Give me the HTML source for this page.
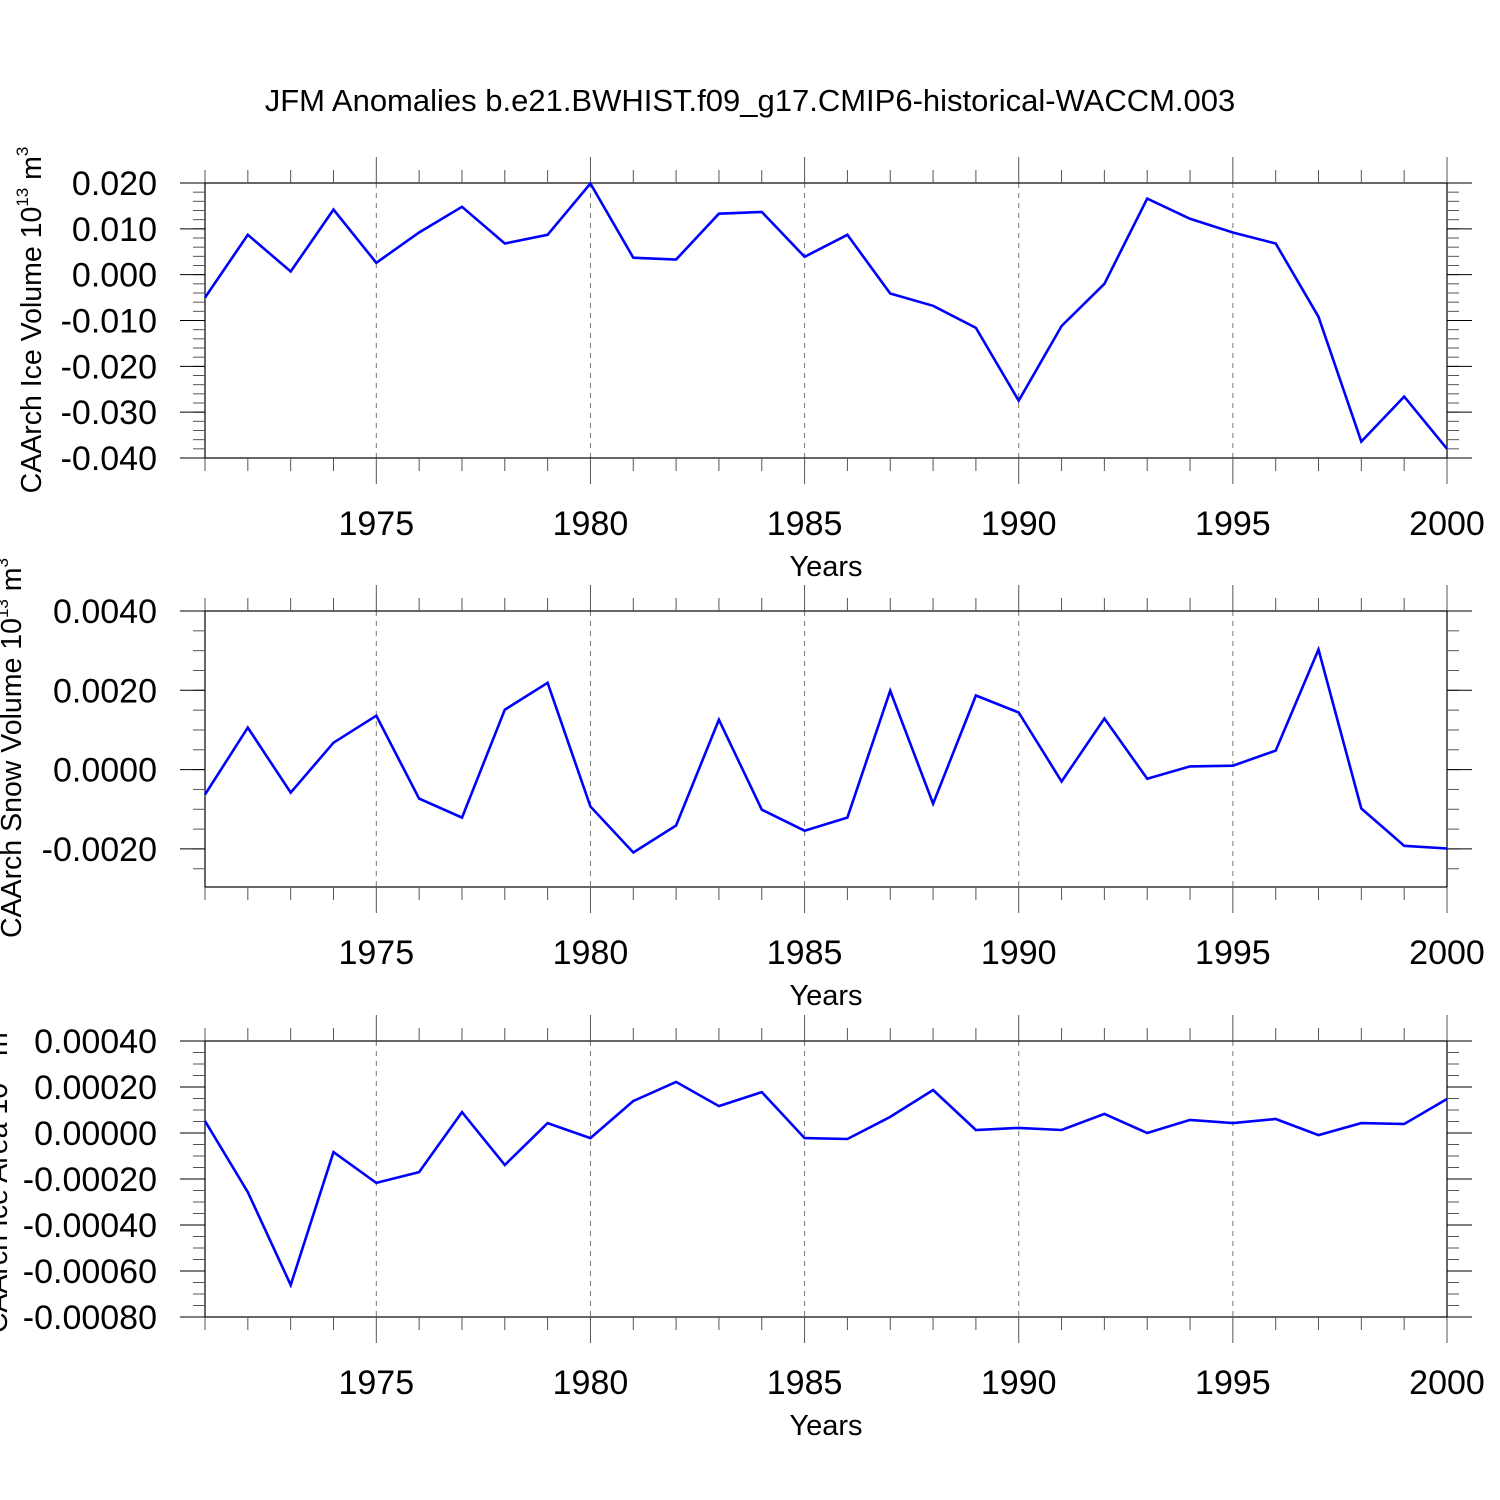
<!DOCTYPE html>
<html><head><meta charset="utf-8"><style>
html,body{margin:0;padding:0;background:#fff;}
svg{display:block;font-family:"Liberation Sans",sans-serif;}
</style></head><body>
<svg id="chart" width="1500" height="1500" viewBox="0 0 1500 1500" xmlns="http://www.w3.org/2000/svg">
<rect width="1500" height="1500" fill="#fff"/>
<text x="750" y="111" font-size="31" text-anchor="middle">JFM Anomalies b.e21.BWHIST.f09_g17.CMIP6-historical-WACCM.003</text>
</svg>
<script>
const years = [1971,1972,1973,1974,1975,1976,1977,1978,1979,1980,1981,1982,1983,1984,1985,1986,1987,1988,1989,1990,1991,1992,1993,1994,1995,1996,1997,1998,1999,2000];
const iceVolume = [-0.0050,0.0087,0.0007,0.0142,0.0026,0.0092,0.0148,0.0068,0.0087,0.0199,0.0037,0.0033,0.0133,0.0137,0.0039,0.0087,-0.0041,-0.0068,-0.0116,-0.0275,-0.0112,-0.0020,0.0166,0.0122,0.0092,0.0068,-0.0092,-0.0364,-0.0266,-0.0380];
const snowVolume = [-0.00063,0.00106,-0.00058,0.00068,0.00136,-0.00073,-0.00121,0.00151,0.00219,-0.00093,-0.00209,-0.00141,0.00126,-0.00101,-0.00154,-0.00121,0.00199,-0.00086,0.00187,0.00144,-0.00030,0.00129,-0.00023,0.00008,0.00010,0.00048,0.00303,-0.00098,-0.00192,-0.00199];
const iceArea = [0.000052,-0.000257,-0.000661,-0.000083,-0.000217,-0.000170,0.000091,-0.000139,0.000043,-0.000022,0.000139,0.000222,0.000117,0.000178,-0.000022,-0.000026,0.000070,0.000187,0.000013,0.000022,0.000013,0.000083,0.000000,0.000057,0.000043,0.000061,-0.000009,0.000043,0.000039,0.000148];
const xTickYears = [1975,1980,1985,1990,1995,2000];
const iceVolTicks = [0.02,0.01,0,-0.01,-0.02,-0.03,-0.04];
const iceVolLabels = ["0.020","0.010","0.000","-0.010","-0.020","-0.030","-0.040"];
const snowTicks = [0.004,0.002,0,-0.002];
const snowLabels = ["0.0040","0.0020","0.0000","-0.0020"];
const areaTicks = [0.0004,0.0002,0,-0.0002,-0.0004,-0.0006,-0.0008];
const areaLabels = ["0.00040","0.00020","0.00000","-0.00020","-0.00040","-0.00060","-0.00080"];

const NS="http://www.w3.org/2000/svg";
const svg=document.getElementById('chart');
const X0=205,X1=1447;
function xs(yr){return X0+(yr-1971)/(2000-1971)*(X1-X0);}
function mk(tag,attrs,parent){const e=document.createElementNS(NS,tag);for(const k in attrs)e.setAttribute(k,attrs[k]);(parent||svg).appendChild(e);return e;}

function panel(cfg){
  const g=mk('g',{});
  
  
  const T=cfg.top,B=cfg.bottom;
  const ys=v=>T+(cfg.ymax-v)/(cfg.ymax-cfg.ymin)*(B-T);
  xTickYears.forEach(yr=>{if(yr<2000){const l=mk('line',{x1:xs(yr),x2:xs(yr),y1:T,y2:B,stroke:'#777','stroke-width':1,'stroke-dasharray':'5,5'},g);
    
    }});
  const f=mk('rect',{x:X0,y:T,width:X1-X0,height:B-T,fill:'none',stroke:'#000','stroke-width':1.2},g);
  
  
  for(let yr=1971;yr<=2000;yr++){
    const maj=xTickYears.includes(yr),len=maj?26:13,x=xs(yr);
    mk('line',{x1:x,x2:x,y1:T,y2:T-len,stroke:'#555','stroke-width':1},g);
    mk('line',{x1:x,x2:x,y1:B,y2:B+len,stroke:'#555','stroke-width':1},g);
  }
  xTickYears.forEach(yr=>{const t=mk('text',{x:xs(yr),y:B+77,'font-size':34,'text-anchor':'middle'},g);t.textContent=yr;
    
    });
  const xt=mk('text',{x:826,y:B+118,'font-size':29,'text-anchor':'middle'},g);xt.textContent='Years';
  
  
  for(let v=cfg.ymax;v>=cfg.ymin-1e-12;v-=cfg.minor){
    const y=ys(v);
    mk('line',{x1:X0,x2:X0-12,y1:y,y2:y,stroke:'#555','stroke-width':1},g);
    mk('line',{x1:X1,x2:X1+12,y1:y,y2:y,stroke:'#555','stroke-width':1},g);
  }
  cfg.ticks.forEach((v,i)=>{const y=ys(v);
    mk('line',{x1:X0,x2:X0-25,y1:y,y2:y,stroke:'#000','stroke-width':1},g);
    mk('line',{x1:X1,x2:X1+25,y1:y,y2:y,stroke:'#000','stroke-width':1},g);
    const t=mk('text',{x:157,y:y+12,'font-size':34,'text-anchor':'end'},g);t.textContent=cfg.labels[i];
    
    });
  const yt=mk('text',{transform:`translate(${cfg.lx},${cfg.ly}) rotate(-90)`,'font-size':28.5,'text-anchor':'middle'},g);
  
  
  yt.appendChild(document.createTextNode(cfg.label+' 10'));
  const s1=mk('tspan',{'font-size':17,dy:-13},yt);s1.textContent='13';
  const s2=mk('tspan',{dy:13},yt);s2.textContent=' m';
  const s3=mk('tspan',{'font-size':17,dy:-13},yt);s3.textContent=cfg.pow;
  const pts=years.map((yr,i)=>xs(yr).toFixed(1)+','+ys(cfg.data[i]).toFixed(1)).join(' ');
  const pl=mk('polyline',{points:pts,fill:'none',stroke:'#0000ff','stroke-width':2.6,'stroke-linejoin':'miter'},g);
  
  
}
panel({name:'ice-volume-panel',top:183,bottom:458,ymax:0.02,ymin:-0.04,minor:0.002,ticks:iceVolTicks,labels:iceVolLabels,data:iceVolume,label:'CAArch Ice Volume',pow:'3',lx:41,ly:320});
panel({name:'snow-volume-panel',top:611,bottom:887,ymax:0.004,ymin:-0.00296,minor:0.0005,ticks:snowTicks,labels:snowLabels,data:snowVolume,label:'CAArch Snow Volume',pow:'3',lx:21,ly:748});
panel({name:'ice-area-panel',top:1041,bottom:1317,ymax:0.0004,ymin:-0.0008,minor:0.00005,ticks:areaTicks,labels:areaLabels,data:iceArea,label:'CAArch Ice Area',pow:'2',lx:7,ly:1178});
</script>
</body></html>
